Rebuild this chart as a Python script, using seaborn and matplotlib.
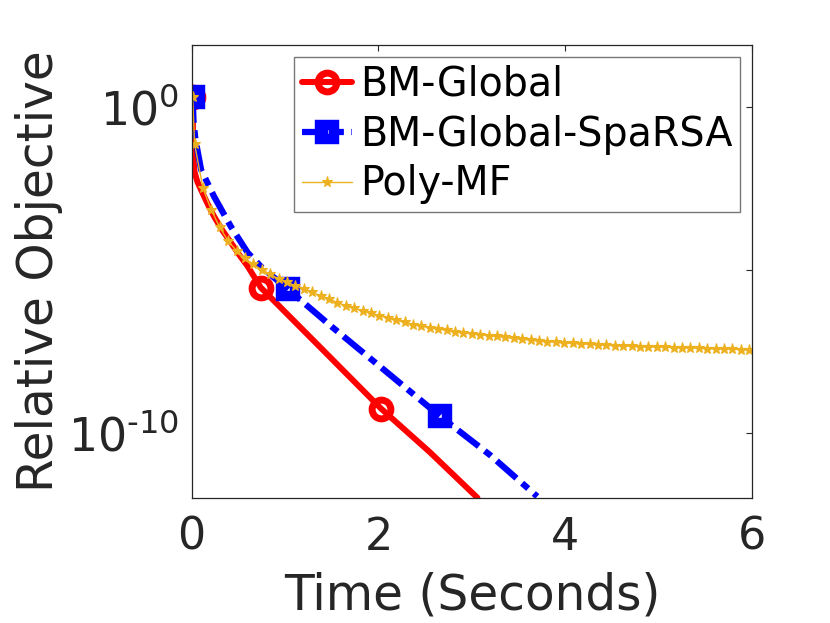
import numpy as np
import matplotlib
matplotlib.use("Agg")
import matplotlib.pyplot as plt
import seaborn as sns

# values (time in seconds, objective as log10 exponent)
bm_time = [0.01, 0.015, 0.03, 0.06, 0.10, 0.17, 0.24, 0.33, 0.42, 0.51, 0.60, 0.74, 1.40, 2.03, 2.55, 3.06]
bm_log = [0.31, -1.5, -2.0, -2.3, -2.55, -2.98, -3.37, -3.8, -4.17, -4.55, -4.9, -5.55, -7.45, -9.27, -10.6, -12.0]

sparsa_time = [0.01, 0.02, 0.04, 0.10, 0.24, 0.42, 0.60, 0.74, 1.03, 1.50, 2.02, 2.66, 3.20, 3.70]
sparsa_log = [0.31, -0.5, -1.0, -1.93, -2.76, -3.68, -4.48, -4.9, -5.6, -6.75, -7.98, -9.5, -10.7, -11.96]

poly_time = [0.01, 0.03, 0.12, 0.21, 0.30, 0.39, 0.48, 0.57, 0.66, 0.75, 0.84, 0.93, 1.02, 1.11, 1.20,
             1.29, 1.38, 1.47, 1.56, 1.65, 1.74, 1.83, 1.92, 2.01, 2.10, 2.19, 2.28, 2.37, 2.46, 2.55,
             2.64, 2.73, 2.82, 2.91, 3.00, 3.09, 3.18, 3.27, 3.36, 3.45, 3.54, 3.63, 3.72, 3.81, 3.90,
             3.99, 4.08, 4.17, 4.26, 4.35, 4.44, 4.53, 4.62, 4.71, 4.80, 4.89, 4.98, 5.07, 5.16, 5.25,
             5.34, 5.43, 5.52, 5.61, 5.70, 5.79, 5.88, 5.97]
poly_log = [0.31, -1.13, -2.5, -3.17, -3.7, -4.12, -4.42, -4.65, -4.84, -5.0, -5.14, -5.28, -5.39, -5.49, -5.59,
            -5.70, -5.80, -5.90, -6.01, -6.11, -6.18, -6.26, -6.34, -6.41, -6.48, -6.55, -6.62, -6.69, -6.73, -6.78,
            -6.82, -6.86, -6.90, -6.93, -6.96, -6.99, -7.02, -7.05, -7.08, -7.11, -7.14, -7.16, -7.19, -7.21, -7.23,
            -7.25, -7.26, -7.28, -7.29, -7.31, -7.32, -7.33, -7.34, -7.35, -7.36, -7.37, -7.37, -7.38, -7.39, -7.39,
            -7.40, -7.41, -7.42, -7.43, -7.43, -7.44, -7.45, -7.45]

x_ticks = [0, 2, 4, 6]
y_ticks = [1e-10, 1e-5, 1e0]
y_tick_labels = ["$\\mathdefault{10^{\u201010}}$", "", "$\\mathdefault{10^{0}}$"]

sns.set_theme(style="white")
plt.rcParams["font.family"] = ["DejaVu Sans"]
dark = "#262626"

fig = plt.figure(figsize=(8.3, 6.23), dpi=100)
ax = fig.add_axes([0.231, 0.201, 0.675, 0.727])
ax.set_yscale("log")

sns.lineplot(x=bm_time, y=np.power(10.0, bm_log), ax=ax, color="#ff0000", lw=4.3,
             marker="o", ms=13.5, mew=5, mfc="none", mec="#ff0000",
             markevery=[0, 11, 13], label="BM-Global", sort=False, estimator=None)
sns.lineplot(x=sparsa_time, y=np.power(10.0, sparsa_log), ax=ax, color="#0000ff", lw=4.5,
             linestyle=(0, (4.2, 1.2, 1.3, 1.2)),
             marker="s", ms=10.5, mew=7.5, mfc="none", mec="#0000ff",
             markevery=[0, 8, 11], label="BM-Global-SpaRSA", sort=False, estimator=None)
sns.lineplot(x=poly_time, y=np.power(10.0, poly_log), ax=ax, color="#EDB120", lw=1.0,
             marker="*", ms=8, mew=0.8, mec="#EDB120",
             label="Poly-MF", sort=False, estimator=None)

ax.set_xlim(0, 6)
ax.set_ylim(1e-12, 10 ** 1.9)
ax.set_xticks(x_ticks)
ax.set_xticklabels([str(v) for v in x_ticks])
ax.set_yticks(y_ticks)
ax.set_yticklabels(y_tick_labels)
ax.minorticks_off()
ax.tick_params(axis="both", which="major", direction="in", length=4.5, width=0.8,
               colors=dark, labelsize=32, top=True, right=True)
ax.tick_params(axis="x", pad=13)
ax.tick_params(axis="y", pad=9, labelsize=33)
for s in ax.spines.values():
    s.set_color(dark)
    s.set_linewidth(0.9)
    s.set_visible(True)

ax.set_xlabel("Time (Seconds)", fontsize=35, color=dark, labelpad=9)
ax.set_ylabel("Relative Objective", fontsize=35, color=dark, labelpad=4)

leg = ax.legend(loc="upper right", fontsize=28.5, frameon=True, fancybox=False,
                borderpad=0.2, labelspacing=0.25, handlelength=1.25, handletextpad=0.2,
                borderaxespad=0.3)
leg.get_frame().set_edgecolor("#555555")
leg.get_frame().set_linewidth(1.0)
for t in leg.get_texts():
    t.set_color("black")

fig.savefig("out.png", dpi=100, facecolor="white")
